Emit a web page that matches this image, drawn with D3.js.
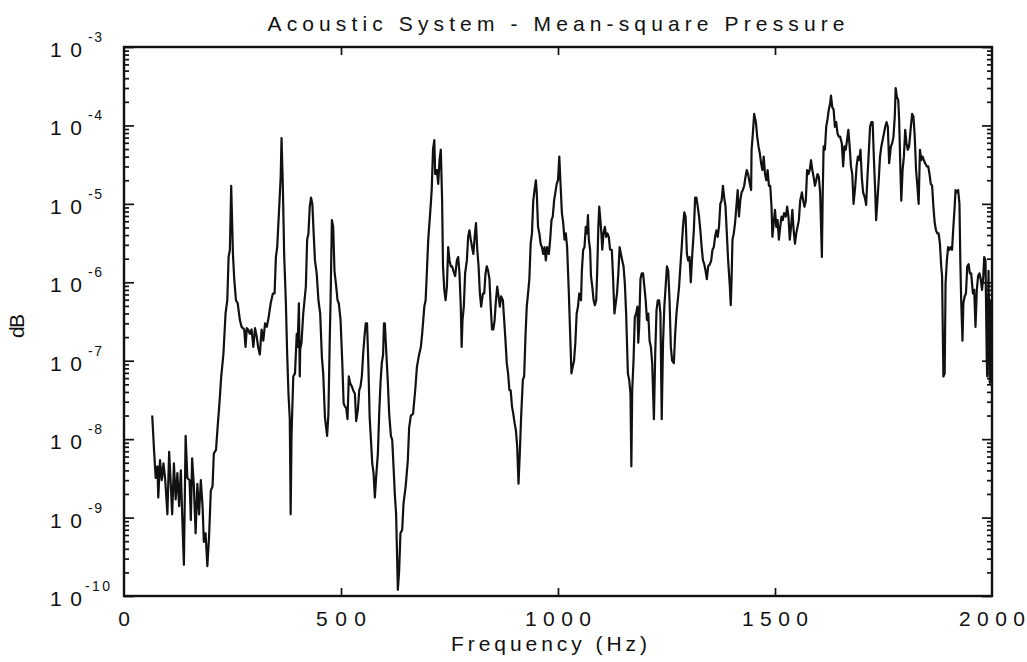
<!DOCTYPE html>
<html><head><meta charset="utf-8">
<script src="https://cdn.jsdelivr.net/npm/d3@7"></script>
<style>body{margin:0;background:#fff}svg{display:block}</style>
</head><body><svg id="c" width="1027" height="662"></svg>
<script>
const titleText = "Acoustic System - Mean-square Pressure";
const xLabelText = "Frequency (Hz)";
const yLabelText = "dB";
const xTickValues = [0, 500, 1000, 1500, 2000];
const yTickExponents = [-3, -4, -5, -6, -7, -8, -9, -10];

const freqHz = [65,69,73,77,79,83,87,91,95,100,104,108,111,115,119,123,127,131,134,138,142,146,151,154,157,161,165,169,173,177,181,184,188,192,196,200,204,207,212,216,220,224,229,234,238,241,244,247,251,254,258,262,267,271,277,280,283,286,290,294,298,302,306,309,313,317,321,325,329,333,338,343,347,350,353,358,361,363,366,369,373,376,379,382,384,386,390,394,398,400,403,405,406,409,413,419,422,425,428,431,434,437,440,444,448,452,456,459,463,468,471,474,476,479,482,485,489,492,495,499,503,506,509,512,515,518,521,525,528,532,535,539,542,545,548,551,554,557,560,563,566,569,572,575,578,581,585,588,591,594,597,599,601,604,608,611,615,618,621,624,627,631,634,637,641,644,649,654,657,661,666,671,675,680,684,687,692,695,698,701,706,709,712,715,717,721,724,727,730,733,735,738,741,744,747,750,753,756,759,763,767,770,773,776,778,780,783,786,790,793,796,799,802,805,808,811,814,817,820,823,827,830,833,836,839,842,845,848,851,854,857,860,863,866,869,873,876,879,882,885,888,891,894,897,900,903,906,909,912,915,919,922,925,928,931,934,937,940,943,946,949,951,954,957,960,963,966,969,972,975,979,982,985,988,991,994,997,1000,1003,1006,1009,1012,1015,1018,1021,1025,1028,1031,1034,1037,1040,1043,1046,1049,1053,1055,1058,1061,1064,1067,1069,1071,1074,1076,1079,1082,1085,1088,1090,1093,1095,1097,1100,1102,1105,1108,1111,1114,1117,1120,1124,1127,1130,1133,1136,1139,1142,1145,1148,1151,1154,1157,1161,1164,1167,1169,1171,1174,1177,1180,1183,1185,1187,1190,1193,1196,1199,1202,1205,1208,1211,1214,1217,1221,1224,1227,1230,1233,1236,1239,1242,1245,1248,1251,1254,1257,1260,1263,1267,1270,1273,1276,1279,1282,1285,1288,1291,1294,1297,1300,1303,1306,1309,1313,1316,1319,1322,1325,1328,1331,1334,1337,1340,1343,1346,1350,1353,1356,1359,1362,1365,1368,1371,1374,1377,1380,1383,1386,1389,1392,1396,1398,1400,1402,1405,1408,1411,1414,1417,1420,1423,1426,1429,1432,1435,1438,1442,1445,1446,1449,1452,1456,1459,1462,1465,1468,1471,1474,1477,1480,1483,1486,1489,1492,1494,1497,1500,1503,1506,1509,1512,1515,1518,1521,1525,1528,1531,1534,1537,1540,1543,1546,1549,1552,1555,1558,1562,1565,1568,1571,1574,1577,1580,1583,1586,1589,1592,1595,1598,1601,1604,1608,1610,1612,1615,1618,1621,1624,1627,1629,1632,1635,1638,1641,1644,1647,1650,1654,1657,1660,1663,1666,1669,1672,1675,1678,1681,1685,1688,1691,1694,1697,1700,1703,1707,1710,1713,1716,1719,1722,1725,1728,1731,1733,1736,1739,1742,1745,1748,1751,1754,1757,1760,1763,1767,1770,1773,1776,1778,1781,1784,1786,1789,1791,1794,1797,1800,1803,1806,1809,1813,1816,1819,1822,1825,1828,1831,1834,1837,1840,1843,1846,1850,1853,1856,1859,1862,1865,1868,1871,1874,1877,1880,1883,1885,1888,1891,1893,1896,1899,1902,1905,1908,1911,1914,1916,1919,1922,1925,1927,1929,1932,1934,1937,1940,1943,1946,1949,1952,1956,1959,1962,1965,1968,1971,1974,1977,1980,1982,1985,1986,1988,1989,1992,1995,1998];

const meanSquarePressure = [2.0e-8,7.6e-9,3.2e-9,4.5e-9,1.8e-9,5.4e-9,3.0e-9,4.9e-9,3.0e-9,1.1e-9,6.9e-9,2.5e-9,1.1e-9,4.9e-9,1.7e-9,3.7e-9,1.4e-9,4.0e-9,1.1e-9,2.5e-10,1.1e-8,3.2e-9,3.0e-9,9.3e-10,5.7e-9,2.5e-9,6.3e-10,2.7e-9,1.1e-9,3.0e-9,1.4e-9,4.9e-10,6.3e-10,2.4e-10,5.7e-10,2.2e-9,2.5e-9,6.6e-9,7.3e-9,1.5e-8,2.9e-8,6.3e-8,1.2e-7,4.0e-7,5.9e-7,2.1e-6,2.6e-6,1.7e-5,2.3e-6,1.1e-6,5.9e-7,5.4e-7,3.3e-7,2.7e-7,2.5e-7,1.5e-7,2.6e-7,2.5e-7,2.2e-7,2.5e-7,1.5e-7,2.6e-7,2.0e-7,1.5e-7,1.2e-7,2.5e-7,1.8e-7,3.0e-7,2.7e-7,3.5e-7,5.4e-7,7.2e-7,7.2e-7,2.1e-6,2.8e-6,1.0e-5,2.2e-5,6.9e-5,1.7e-5,2.3e-6,5.4e-7,1.2e-7,3.8e-8,1.8e-8,1.1e-9,1.1e-8,6.3e-8,6.9e-8,2.2e-7,1.5e-7,5.4e-7,6.3e-8,1.4e-7,1.7e-7,4.0e-7,8.8e-7,3.5e-6,4.2e-6,9.2e-6,1.2e-5,1.0e-5,4.2e-6,1.9e-6,1.3e-6,5.9e-7,4.0e-7,1.1e-7,6.9e-8,1.9e-8,1.1e-8,2.1e-8,1.8e-7,5.9e-7,6.2e-6,5.1e-6,1.4e-6,8.8e-7,5.9e-7,5.4e-7,3.3e-7,9.3e-8,2.9e-8,2.6e-8,2.5e-8,1.8e-8,6.3e-8,5.2e-8,4.7e-8,4.2e-8,3.8e-8,1.7e-8,2.4e-8,4.2e-8,4.7e-8,6.3e-8,1.2e-7,2.0e-7,3.0e-7,3.0e-7,9.3e-8,1.9e-8,9.8e-9,4.9e-9,3.7e-9,1.8e-9,3.3e-9,6.6e-9,2.1e-8,5.2e-8,9.3e-8,1.2e-7,3.0e-7,3.0e-7,1.4e-7,5.2e-8,2.1e-8,1.1e-8,9.8e-9,4.5e-9,2.0e-9,1.1e-9,1.2e-10,2.1e-10,6.3e-10,7.0e-10,1.5e-9,2.5e-9,5.4e-9,1.4e-8,2.0e-8,2.1e-8,4.2e-8,8.4e-8,1.2e-7,1.5e-7,2.2e-7,4.9e-7,5.9e-7,1.4e-6,3.5e-6,8.4e-6,1.5e-5,4.9e-5,6.5e-5,2.4e-5,2.7e-5,1.8e-5,3.6e-5,4.9e-5,1.1e-5,1.6e-6,8.0e-7,5.9e-7,8.8e-7,2.8e-6,1.9e-6,1.6e-6,1.6e-6,1.4e-6,1.2e-6,1.9e-6,2.1e-6,1.3e-6,4.9e-7,1.5e-7,3.3e-7,4.9e-7,1.3e-6,1.9e-6,3.8e-6,4.6e-6,3.5e-6,2.8e-6,2.3e-6,3.8e-6,5.7e-6,2.6e-6,1.6e-6,7.2e-7,4.9e-7,7.2e-7,7.2e-7,1.3e-6,1.6e-6,1.4e-6,1.1e-6,4.9e-7,2.5e-7,2.5e-7,3.3e-7,5.9e-7,8.8e-7,6.6e-7,4.9e-7,6.6e-7,5.9e-7,3.3e-7,1.8e-7,9.3e-8,6.9e-8,4.2e-8,4.2e-8,2.6e-8,2.1e-8,1.6e-8,1.3e-8,8.0e-9,2.7e-9,6.6e-9,1.9e-8,5.7e-8,6.3e-8,2.0e-7,4.9e-7,7.2e-7,1.1e-6,3.1e-6,4.2e-6,1.1e-5,1.5e-5,2.0e-5,1.4e-5,5.1e-6,4.2e-6,3.1e-6,2.8e-6,2.3e-6,2.8e-6,1.9e-6,2.8e-6,2.3e-6,3.5e-6,6.2e-6,6.9e-6,1.1e-5,1.4e-5,1.8e-5,2.0e-5,4.0e-5,1.7e-5,7.6e-6,5.7e-6,3.5e-6,4.2e-6,2.8e-6,7.2e-7,2.2e-7,6.9e-8,8.4e-8,1.0e-7,1.7e-7,4.0e-7,4.9e-7,7.2e-7,5.9e-7,1.4e-6,2.6e-6,2.8e-6,5.1e-6,4.2e-6,7.2e-6,3.5e-6,2.6e-6,1.2e-6,8.8e-7,5.9e-7,5.1e-7,5.9e-7,1.2e-6,5.1e-6,9.2e-6,6.9e-6,4.2e-6,2.6e-6,4.2e-6,5.1e-6,3.8e-6,4.2e-6,3.8e-6,2.6e-6,2.6e-6,1.1e-6,4.0e-7,5.4e-7,7.2e-7,1.3e-6,2.8e-6,2.3e-6,1.9e-6,1.6e-6,9.7e-7,4.0e-7,6.9e-8,5.7e-8,3.8e-8,4.5e-9,4.2e-8,1.0e-7,3.6e-7,4.0e-7,4.9e-7,1.7e-7,2.7e-7,1.1e-6,1.3e-6,1.3e-6,8.8e-7,5.9e-7,3.3e-7,4.0e-7,1.8e-7,1.5e-7,9.3e-8,1.8e-8,1.2e-7,4.4e-7,5.9e-7,5.9e-7,4.0e-7,1.8e-8,1.7e-7,4.9e-7,8.8e-7,1.6e-6,1.4e-6,5.9e-7,1.5e-7,1.0e-7,9.3e-8,2.2e-7,4.0e-7,5.9e-7,8.8e-7,1.6e-6,2.8e-6,5.1e-6,7.8e-6,6.9e-6,2.3e-6,1.9e-6,2.1e-6,1.0e-6,2.1e-6,4.6e-6,1.2e-5,1.2e-5,9.2e-6,6.9e-6,4.6e-6,2.8e-6,1.9e-6,1.7e-6,1.4e-6,1.1e-6,1.6e-6,1.7e-6,1.9e-6,2.6e-6,2.8e-6,3.8e-6,4.6e-6,3.8e-6,5.1e-6,1.0e-5,1.1e-5,1.7e-5,1.2e-5,9.2e-6,4.2e-6,1.9e-6,8.8e-7,5.1e-7,1.1e-6,3.5e-6,4.2e-6,5.7e-6,9.2e-6,1.5e-5,6.9e-6,1.1e-5,1.4e-5,1.5e-5,1.7e-5,2.2e-5,2.7e-5,2.4e-5,1.8e-5,1.5e-5,4.9e-5,7.9e-5,1.4e-4,1.1e-4,7.2e-5,5.4e-5,4.4e-5,3.3e-5,2.7e-5,4.0e-5,2.4e-5,2.0e-5,2.7e-5,1.7e-5,1.7e-5,9.2e-6,3.8e-6,5.7e-6,8.4e-6,5.1e-6,6.2e-6,3.5e-6,5.1e-6,6.9e-6,6.2e-6,7.6e-6,6.9e-6,9.2e-6,6.9e-6,3.5e-6,5.1e-6,8.4e-6,4.6e-6,3.1e-6,4.2e-6,5.1e-6,6.2e-6,1.1e-5,1.4e-5,1.1e-5,9.2e-6,1.1e-5,2.7e-5,2.4e-5,2.7e-5,3.6e-5,2.7e-5,2.2e-5,1.7e-5,2.0e-5,2.4e-5,2.2e-5,1.4e-5,2.1e-6,1.4e-5,5.4e-5,4.9e-5,9.6e-5,1.2e-4,1.6e-4,1.9e-4,2.4e-4,1.7e-4,1.6e-4,9.6e-5,1.1e-4,7.9e-5,7.2e-5,7.2e-5,5.9e-5,3.0e-5,5.4e-5,4.9e-5,6.5e-5,8.8e-5,5.4e-5,3.0e-5,2.4e-5,1.0e-5,1.7e-5,3.0e-5,4.0e-5,3.6e-5,4.9e-5,2.2e-5,1.4e-5,1.2e-5,9.7e-6,2.2e-5,4.4e-5,9.6e-5,1.1e-4,1.1e-4,3.6e-5,1.4e-5,6.2e-6,1.1e-5,2.0e-5,4.0e-5,5.4e-5,6.5e-5,7.9e-5,9.6e-5,1.1e-4,9.6e-5,3.3e-5,5.4e-5,5.9e-5,7.2e-5,1.3e-4,3.0e-4,2.3e-4,2.1e-4,1.2e-4,2.7e-5,1.1e-5,2.7e-5,4.0e-5,8.8e-5,5.9e-5,4.9e-5,5.4e-5,9.6e-5,1.4e-4,1.3e-4,7.2e-5,2.7e-5,1.7e-5,1.0e-5,4.9e-5,3.6e-5,4.0e-5,3.6e-5,3.3e-5,3.0e-5,3.0e-5,2.4e-5,1.8e-5,1.7e-5,9.2e-6,5.7e-6,4.6e-6,4.2e-6,4.2e-6,3.1e-6,1.6e-6,1.2e-6,6.3e-8,6.9e-8,9.7e-7,1.9e-6,2.8e-6,2.6e-6,2.8e-6,2.6e-6,5.1e-6,9.2e-6,1.5e-5,1.4e-5,1.5e-5,1.0e-5,1.9e-6,5.9e-7,1.8e-7,5.4e-7,6.6e-7,7.2e-7,1.6e-6,1.7e-6,1.3e-6,1.3e-6,7.2e-7,8.0e-7,2.7e-7,8.0e-7,1.2e-6,1.3e-6,1.1e-6,8.0e-7,1.2e-6,2.1e-6,1.9e-6,7.2e-7,1.0e-7,6.3e-8,1.4e-6,5.2e-8,5.9e-7];

const svg = d3.select("#c");
const fontFam = "'Liberation Sans', Arial, Helvetica, sans-serif";
const ink = "#111";
const L = 124, R = 992, T = 47, B = 596;

const x = d3.scaleLinear().domain([0, 2000]).range([L, R]);
const y = d3.scaleLog().domain([1e-10, 1e-3]).range([B, T]);

const majorY = yTickExponents.map(e => Math.pow(10, e));
const minorY = [];
yTickExponents.slice(1).forEach(e => { for (let k = 2; k <= 9; k++) minorY.push(k * Math.pow(10, e)); });

function styleAxis(g) {
  g.select(".domain").remove();
  g.selectAll(".tick line").attr("stroke", ink).attr("stroke-width", 1.7);
}
svg.append("g").attr("transform", `translate(${L},0)`)
  .call(d3.axisLeft(y).tickValues(majorY).tickSizeInner(-10).tickSizeOuter(0).tickFormat("")).call(styleAxis);
svg.append("g").attr("transform", `translate(${L},0)`)
  .call(d3.axisLeft(y).tickValues(minorY).tickSizeInner(-5).tickSizeOuter(0).tickFormat("")).call(styleAxis);
svg.append("g").attr("transform", `translate(${R},0)`)
  .call(d3.axisRight(y).tickValues(majorY).tickSizeInner(-10).tickSizeOuter(0).tickFormat("")).call(styleAxis);
svg.append("g").attr("transform", `translate(${R},0)`)
  .call(d3.axisRight(y).tickValues(minorY).tickSizeInner(-5).tickSizeOuter(0).tickFormat("")).call(styleAxis);
const innerX = xTickValues.slice(1, -1);
svg.append("g").attr("transform", `translate(0,${B})`)
  .call(d3.axisBottom(x).tickValues(innerX).tickSizeInner(-8).tickSizeOuter(0).tickFormat("")).call(styleAxis);
svg.append("g").attr("transform", `translate(0,${T})`)
  .call(d3.axisTop(x).tickValues(innerX).tickSizeInner(-8).tickSizeOuter(0).tickFormat("")).call(styleAxis);

svg.append("rect").attr("x", L).attr("y", T).attr("width", R - L).attr("height", B - T)
  .attr("fill", "none").attr("stroke", ink).attr("stroke-width", 2.4);

const pts = freqHz.map((f, i) => [f, meanSquarePressure[i]]);
svg.append("path").datum(pts)
  .attr("fill", "none").attr("stroke", ink).attr("stroke-width", 2.2)
  .attr("stroke-linejoin", "round")
  .attr("d", d3.line().x(d => x(d[0])).y(d => y(d[1])));

yTickExponents.forEach(e => {
  const yy = y(Math.pow(10, e));
  svg.append("text").attr("x", 50).attr("y", yy + 10)
    .attr("font-family", fontFam).attr("font-size", 21).attr("fill", ink)
    .attr("textLength", 32).attr("lengthAdjust", "spacing").text("10");
  const s = String(e);
  svg.append("text").attr("x", s.length > 2 ? 85 : 88).attr("y", yy - 5)
    .attr("font-family", fontFam).attr("font-size", 14).attr("fill", ink)
    .attr("textLength", s.length > 2 ? 25 : 14).attr("lengthAdjust", "spacing").text(s);
});

xTickValues.forEach(v => {
  const s = String(v);
  const t = svg.append("text").attr("x", x(v)).attr("y", 626)
    .attr("text-anchor", "middle")
    .attr("font-family", fontFam).attr("font-size", 21).attr("fill", ink).text(s);
  if (s.length > 1) t.attr("textLength", s.length === 4 ? 66 : 50).attr("lengthAdjust", "spacing");
});

svg.append("text").attr("x", 556).attr("y", 31).attr("text-anchor", "middle")
  .attr("font-family", fontFam).attr("font-size", 21).attr("fill", ink)
  .attr("textLength", 577).attr("lengthAdjust", "spacing").text(titleText);

svg.append("text").attr("x", 549).attr("y", 651).attr("text-anchor", "middle")
  .attr("font-family", fontFam).attr("font-size", 21).attr("fill", ink)
  .attr("textLength", 196).attr("lengthAdjust", "spacing").text(xLabelText);
svg.append("text").attr("transform", "translate(24,326) rotate(-90)").attr("text-anchor", "middle")
  .attr("font-family", fontFam).attr("font-size", 21).attr("fill", ink)
  .attr("textLength", 24).attr("lengthAdjust", "spacing").text(yLabelText);
</script></body></html>
